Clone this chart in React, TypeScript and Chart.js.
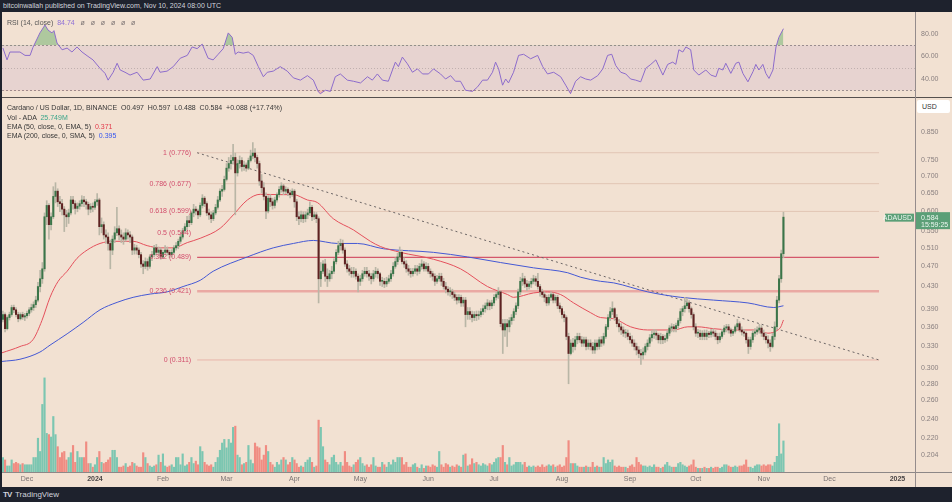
import React, { useEffect, useRef } from "react";
import { Chart, registerables } from "chart.js";

Chart.register(...registerables);

const FONT = "'Liberation Sans', Arial, sans-serif";
const BG = "#f2e1d2";
const DARK = "#1e222d";

// day 0 = Dec 1, 2023 ; first candle = Nov 20, 2023
const START_DAY = -11;
const FIRST_OPEN = 372; // thousandths of USD

const closes = [
  380, 357, 375, 380, 392, 388, 380, 373, 380, 376,
  378, 382, 388, 392, 397, 405, 430, 445, 465, 585,
  615, 565, 585, 640, 655, 625, 620, 605, 590, 585,
  595, 630, 620, 607, 613, 620, 630, 625, 618, 605,
  612, 610, 625, 630, 560, 565, 540, 535, 520, 505,
  530, 545, 555, 540, 535, 530, 545, 540, 535, 505,
  510, 505, 495, 475, 470, 480, 470, 490, 495, 510,
  500, 505, 490, 500, 505, 500, 495, 500, 510, 515,
  525, 535, 550, 560, 575, 570, 595, 605, 600, 590,
  615, 635, 620, 595, 590, 580, 595, 610, 630, 655,
  660, 690, 725, 740, 750, 760, 710, 740, 750, 730,
  735, 725, 750, 765, 775, 760, 740, 685, 665, 640,
  600, 635, 625, 615, 630, 645, 660, 670, 655, 660,
  650, 645, 655, 625, 585, 580, 590, 580, 590, 595,
  610, 585, 590, 580, 445, 460, 475, 450, 445, 455,
  460, 480, 500, 515, 520, 505, 475, 465, 460, 455,
  460, 450, 440, 445, 455, 460, 455, 450, 445, 455,
  460, 455, 440, 440, 435, 440, 445, 455, 470, 480,
  490, 500, 480, 475, 465, 460, 455, 460, 465, 460,
  470, 475, 465, 470, 460, 455, 450, 440, 445, 450,
  440, 430, 425, 420, 420, 415, 410, 405, 410, 400,
  405, 380, 385, 380, 375, 380, 378, 380, 385, 390,
  395, 400, 395, 400, 410, 415, 420, 365, 355, 365,
  360, 370, 375, 385, 395, 420, 440, 445, 435, 430,
  435, 440, 445, 440, 430, 420, 415, 410, 400, 410,
  415, 405, 410, 395, 390, 380, 375, 345, 320, 335,
  330, 340, 345, 340, 335, 340, 330, 335, 330, 325,
  335, 330, 340, 335, 345, 360, 375, 385, 390, 375,
  365, 360, 355, 350, 350, 345, 340, 335, 330, 325,
  320, 318, 322, 330, 335, 343, 348, 350, 347, 340,
  345, 340, 342, 350, 358, 360, 357, 362, 370, 385,
  390, 395, 400, 390, 380, 360, 350, 350, 345, 350,
  345, 350, 348, 352, 350, 345, 340, 345, 352, 358,
  360, 355, 350, 353, 360, 365, 355, 352, 350, 340,
  330, 340, 350, 352, 355, 358, 350, 345, 340, 335,
  330, 345, 360, 405, 445, 497, 584,
];

const highs = [
  386, 383, 378, 384, 396, 396, 392, 384, 383, 384,
  382, 386, 392, 398, 402, 412, 438, 462, 478, 595,
  628, 620, 595, 668, 680, 662, 640, 632, 612, 602,
  605, 640, 640, 628, 622, 628, 642, 640, 632, 624,
  620, 622, 632, 648, 635, 582, 572, 552, 545, 528,
  538, 560, 610, 562, 552, 545, 555, 552, 548, 540,
  518, 516, 510, 500, 482, 488, 486, 495, 502, 516,
  518, 512, 510, 505, 515, 512, 505, 506, 515, 522,
  530, 542, 556, 568, 586, 588, 600, 618, 612, 605,
  622, 645, 640, 625, 605, 598, 602, 618, 640, 662,
  672, 700, 740, 760, 768, 805, 775, 752, 765, 760,
  748, 742, 758, 785, 812, 790, 768, 748, 705, 680,
  650, 642, 645, 635, 638, 650, 668, 680, 675, 668,
  665, 658, 662, 660, 632, 598, 600, 598, 598, 605,
  625, 615, 598, 596, 585, 478, 482, 485, 465, 462,
  470, 486, 506, 525, 530, 528, 510, 482, 472, 468,
  468, 465, 455, 452, 462, 468, 468, 462, 456, 462,
  468, 465, 458, 448, 446, 448, 452, 462, 478, 488,
  498, 512, 505, 488, 482, 472, 466, 466, 472, 472,
  476, 484, 480, 478, 476, 465, 460, 455, 452, 456,
  456, 446, 438, 430, 428, 425, 420, 415, 415, 414,
  410, 410, 392, 392, 386, 385, 386, 386, 390, 396,
  400, 406, 404, 405, 415, 420, 428, 422, 372, 372,
  372, 375, 380, 390, 400, 425, 448, 456, 450, 442,
  440, 446, 452, 450, 456, 434, 425, 420, 414, 415,
  420, 418, 414, 414, 400, 394, 385, 378, 350, 340,
  342, 345, 350, 350, 345, 344, 344, 340, 340, 336,
  340, 340, 344, 345, 350, 364, 380, 392, 402, 392,
  380, 372, 365, 360, 356, 355, 350, 346, 340, 335,
  330, 326, 328, 334, 340, 348, 354, 356, 355, 350,
  350, 348, 347, 354, 362, 365, 364, 366, 374, 390,
  394, 410, 408, 404, 393, 383, 365, 356, 355, 354,
  355, 355, 353, 356, 357, 354, 350, 350, 356, 362,
  364, 364, 358, 356, 363, 372, 368, 360, 356, 352,
  344, 344, 354, 357, 360, 364, 362, 355, 350, 346,
  340, 350, 368, 412, 452, 505, 597,
];

const lows = [
  368, 352, 355, 371, 377, 383, 376, 368, 371, 372,
  370, 374, 378, 384, 387, 392, 402, 420, 436, 460,
  565, 530, 552, 580, 622, 612, 598, 590, 548, 560,
  568, 590, 605, 592, 598, 605, 612, 612, 605, 590,
  596, 598, 604, 615, 540, 545, 530, 520, 505, 465,
  495, 522, 538, 528, 522, 518, 525, 530, 522, 495,
  496, 496, 488, 468, 455, 465, 462, 466, 482, 490,
  494, 494, 485, 486, 495, 494, 488, 490, 496, 505,
  508, 520, 530, 545, 552, 560, 565, 585, 590, 580,
  585, 608, 612, 588, 578, 570, 575, 590, 605, 625,
  640, 655, 685, 715, 722, 738, 590, 700, 725, 715,
  718, 715, 720, 745, 755, 745, 725, 672, 650, 630,
  580, 595, 612, 605, 608, 624, 638, 652, 645, 648,
  642, 636, 640, 610, 575, 565, 572, 570, 572, 580,
  588, 575, 578, 570, 400, 430, 455, 440, 430, 440,
  445, 455, 475, 495, 505, 498, 470, 458, 452, 448,
  448, 444, 420, 432, 440, 450, 448, 442, 435, 440,
  448, 446, 432, 430, 428, 430, 436, 440, 450, 466,
  474, 484, 475, 468, 458, 452, 448, 450, 455, 452,
  455, 464, 460, 460, 455, 448, 442, 432, 436, 440,
  432, 425, 418, 414, 412, 408, 404, 398, 400, 394,
  394, 360, 372, 372, 368, 370, 370, 372, 376, 380,
  384, 388, 388, 390, 395, 405, 408, 360, 320, 345,
  330, 352, 364, 370, 380, 390, 415, 432, 428, 422,
  425, 428, 435, 432, 425, 412, 410, 402, 395, 396,
  404, 400, 400, 390, 384, 374, 368, 340, 280, 318,
  322, 325, 334, 336, 330, 330, 325, 326, 325, 320,
  320, 325, 326, 330, 332, 342, 356, 370, 380, 370,
  360, 352, 348, 345, 343, 340, 335, 330, 325, 318,
  314, 305, 312, 318, 325, 330, 338, 342, 340, 335,
  334, 334, 336, 338, 346, 352, 352, 352, 358, 366,
  378, 384, 390, 384, 374, 355, 345, 343, 340, 340,
  340, 340, 343, 344, 345, 340, 334, 336, 342, 348,
  352, 350, 345, 346, 350, 356, 352, 347, 345, 335,
  320, 326, 336, 345, 348, 350, 345, 340, 335, 328,
  323, 328, 340, 356, 400, 438, 488,
];

// volume, millions of ADA
const volumes = [
  12, 10, 5, 5, 10, 7, 8, 7, 6, 7,
  6, 6, 6, 6, 12, 12, 28, 17, 56, 78,
  32, 31, 29, 46, 31, 21, 12, 16, 17, 10,
  12, 16, 22, 8, 17, 12, 12, 12, 25, 7,
  7, 4, 6, 12, 17, 8, 7, 8, 10, 12,
  18, 18, 12, 4, 4, 5, 7, 4, 5, 8,
  7, 5, 4, 4, 16, 12, 7, 5, 4, 5,
  6, 14, 8, 15, 5, 4, 5, 6, 4, 12,
  12, 6, 15, 5, 6, 8, 12, 7, 9, 6,
  21, 17, 8, 6, 5, 6, 4, 8, 12, 18,
  24, 27, 20, 27, 24, 37, 38, 14, 12, 6,
  7, 8, 22, 10, 7, 24, 21, 20, 10, 14,
  22, 17, 8, 6, 4, 8, 6, 10, 12, 10,
  6, 8, 12, 10, 7, 4, 5, 4, 8, 10,
  12, 8, 4, 5, 43, 37, 21, 10, 8, 6,
  12, 14, 8, 6, 8, 5, 17, 8, 5, 4,
  6, 8, 10, 12, 7, 5, 6, 4, 6, 12,
  5, 4, 4, 8, 6, 4, 8, 6, 10, 8,
  12, 12, 12, 6, 8, 4, 4, 6, 7, 4,
  3, 6, 3, 5, 5, 4, 6, 5, 4, 17,
  6, 4, 7, 6, 4, 5, 4, 6, 5, 4,
  14, 15, 5, 6, 11, 7, 8, 6, 5, 7,
  6, 5, 7, 6, 8, 11, 12, 12, 22, 8,
  6, 12, 5, 6, 8, 8, 8, 6, 8, 4,
  5, 4, 5, 4, 5, 4, 6, 4, 5, 6,
  5, 6, 4, 5, 6, 4, 5, 12, 26, 7,
  7, 7, 5, 4, 4, 4, 5, 4, 4, 8,
  4, 5, 4, 4, 12, 7, 10, 8, 10, 5,
  4, 5, 4, 4, 4, 3, 5, 6, 4, 12,
  8, 6, 5, 5, 4, 5, 4, 6, 4, 4,
  3, 4, 6, 8, 5, 4, 4, 4, 7, 8,
  6, 5, 4, 5, 6, 10, 4, 3, 3, 3,
  4, 3, 3, 4, 3, 4, 4, 3, 4, 6,
  6, 5, 4, 4, 5, 4, 5, 5, 6, 10,
  4, 4, 3, 5, 6, 6, 5, 6, 5, 6,
  6, 5, 8, 13, 40, 15, 25.749,
];

const rsiDays = [
  -11, -9.1, -7.8, -3.2, -0.9, 1.4, 2.7, 5.9, 8.2, 9.6,
  11.4, 12.3, 13.7, 16, 18.3, 20.5, 22.8, 25.1, 27.4, 30.1,
  33.3, 35.6, 37, 39.3, 41.1, 42.5, 44.7, 47, 50.2, 53,
  56.2, 59.4, 60.7, 63.9, 66.7, 69.9, 73.1, 75.3, 77.6, 79.9,
  82.6, 84.9, 87.2, 89.5, 91.8, 93.6, 95, 96.3, 98.6, 100.9,
  103.2, 105.5, 107.8, 109.6, 112.3, 115.5, 118.7, 121.5, 124.7, 127.9,
  130.6, 132.9, 133.8, 136.1, 138.4, 140.6, 142.9, 146.1, 148.9, 152.1,
  155.3, 157.5, 159.8, 162.1, 164.8, 168, 169.4, 171.2, 173.5, 175.8,
  178.1, 180.4, 183.1, 185.4, 188.6, 190.9, 193.2, 195.4, 197.7, 200,
  203.2, 205.5, 207.8, 210, 212.3, 213.7, 215.1, 216.9, 218.3, 219.6,
  221.9, 224.2, 226.5, 229.7, 232.9, 235.2, 237.4, 240.2, 243.4, 245.7,
  247.9, 250.2, 252.5, 254.8, 257.1, 260.3, 262.6, 264.8, 266.7, 268.5,
  270.8, 273.1, 275.3, 277.6, 279.9, 282.2, 284.5, 286.8, 290, 292.2,
  294.5, 295.9, 297.3, 299.1, 300.5, 302.7, 304.1, 306.4, 309.6, 311.9,
  314.2, 315.5, 317.4, 318.7, 321, 323.3, 324.7, 326.5, 328.8, 331.1,
  332.4, 333.8, 335.6, 337, 338.4, 340.2, 341.6, 342.9, 345,
];
const rsiValues = [
  67.6, 57, 64, 64, 61, 61, 68, 81, 88, 83.5,
  81, 83, 72, 66, 67.5, 64, 68.5, 64, 60.7, 57,
  49.5, 45, 39, 46, 54, 48, 46, 43.5, 46, 39,
  40, 51, 46, 47, 51, 58.5, 61, 68.5, 67, 71,
  58.5, 57, 62, 67, 81, 77, 62, 64, 63, 64,
  61, 51, 42, 46, 47, 51, 47, 41, 39, 43,
  39, 28.5, 27, 30, 29, 42, 44.5, 39, 38, 36.5,
  42, 39, 44.5, 39, 38, 55, 51, 59.5, 53.5, 46,
  49, 44.5, 44.5, 49, 44.5, 40, 43, 38, 38, 30,
  29, 33, 39, 39, 46, 55, 49, 34.5, 40, 36.5,
  46, 61, 62, 58, 61, 51, 44.5, 46, 42, 34.5,
  27, 38, 42, 40, 39, 43, 49, 61, 62, 52,
  46, 44.5, 40, 39, 37.5, 49.5, 53, 57, 43.5, 53,
  55, 53, 66, 64, 68.5, 66, 48, 43.5, 48, 43.5,
  42, 49.5, 48, 54, 45, 54, 55, 45, 37.5, 46.5,
  53, 48, 53, 45, 40.5, 48, 68.5, 77, 84.74,
];

const ema50Days = [
  -11.4, -3.2, 2.7, 6.8, 10.5, 14.2, 18.3, 22.8, 27.4, 33.3,
  39.3, 48.4, 54.8, 60.7, 66.7, 73.1, 79, 88.1, 94.1, 100.5,
  106.4, 115.5, 121.5, 127.9, 132.4, 139.7, 148.9, 156.6, 161.2, 170.3,
  185.4, 197.7, 210, 219.2, 221.9, 231, 237.4, 243.4, 249.3, 257.1,
  261.6, 267.6, 275.3, 283.1, 295, 301.4, 305.9, 313.2, 322.4, 331.5,
  337.9, 342.5, 343.8, 345,
];
const ema50Values = [
  0.321, 0.33, 0.34, 0.37, 0.41, 0.44, 0.46, 0.487, 0.505, 0.52,
  0.525, 0.525, 0.515, 0.51, 0.51, 0.522, 0.532, 0.556, 0.59, 0.63,
  0.646, 0.645, 0.645, 0.63, 0.623, 0.58, 0.552, 0.525, 0.513, 0.5,
  0.485, 0.465, 0.43, 0.415, 0.41, 0.418, 0.42, 0.415, 0.4, 0.383,
  0.375, 0.373, 0.36, 0.355, 0.355, 0.36, 0.36, 0.357, 0.355, 0.355,
  0.35, 0.355, 0.36, 0.371,
];

const ema200Days = [
  -11.4, -3.2, 5.9, 10.5, 18.3, 25.6, 33.3, 41.1, 48.4, 56.2,
  63.9, 71.2, 79, 84.9, 100.5, 112.3, 121.5, 130.6, 141.6, 150.7,
  162.6, 185.4, 200.9, 216, 231, 246.6, 252.5, 261.6, 267.6, 283.1,
  298.2, 313.2, 328.8, 340.6, 345,
];
const ema200Values = [
  0.309, 0.312, 0.322, 0.332, 0.349, 0.367, 0.388, 0.401, 0.41, 0.416,
  0.42, 0.43, 0.442, 0.46, 0.49, 0.51, 0.52, 0.527, 0.52, 0.52,
  0.508, 0.5, 0.49, 0.478, 0.467, 0.457, 0.448, 0.44, 0.437, 0.42,
  0.41, 0.405, 0.4, 0.392, 0.395,
];

const fibRatios = ["1", "0.786", "0.618", "0.5", "0.382", "0.236", "0"];
const fibPrices = [0.776, 0.677, 0.599, 0.544, 0.489, 0.421, 0.311];
const fibColors = ["#e2c5b5", "#e2c5b5", "#e2c5b5", "rgba(0,0,0,0)", "#d4576b", "#eaa9a3", "#e8b6aa"];
const fibWidths = [1, 1, 1, 0, 1.2, 2.5, 1];
const FIB_START_DAY = 77.6;
const FIB_END_DAY = 388.6;

const trendDays = [77.6, 388.6];
const trendPrices = [0.776, 0.311];

const monthTickDays = [0, 31, 62, 91, 122, 152, 183, 213, 244, 275, 305, 336, 366, 397];
const monthTickLabels = ["Dec", "2024", "Feb", "Mar", "Apr", "May", "Jun", "Jul", "Aug", "Sep", "Oct", "Nov", "Dec", "2025"];
const priceTicks = [0.85, 0.75, 0.7, 0.65, 0.6, 0.55, 0.51, 0.47, 0.43, 0.39, 0.36, 0.33, 0.3, 0.28, 0.26, 0.24, 0.22, 0.204];
const rsiTicks = [40, 60, 80];

const X_MIN = -11.4;
const X_MAX = 405;
const PRICE_MIN = 0.1897;
const PRICE_MAX = 0.988;
const VOL_MAX = 310;
const RSI_MIN = 24;
const RSI_MAX = 98.7;
const COUNTDOWN = "15:59:25";

const UP_BODY = "#3b7549";
const DOWN_BODY = "#5e2121";
const WICK = "#b9b6a6";
const VOL_UP = "#7cc6b1";
const VOL_DOWN = "#f08c82";
const EMA50_COLOR = "#e4505c";
const EMA200_COLOR = "#4458d4";
const RSI_COLOR = "#8c6bcb";
const FIB_LABEL = "#d24e6c";
const TAG_GREEN = "#5b9f77";
const AXIS_TEXT = "#8a8080";

Chart.defaults.font.family = FONT;
Chart.defaults.font.size = 7;

const fitRightAxis = (axis: any) => {
  axis.width = 37;
  axis.paddingTop = 0;
  axis.paddingBottom = 0;
};
const fitBottomAxis = (axis: any) => {
  axis.height = 15;
  axis.paddingLeft = 0;
  axis.paddingRight = 0;
};

function buildMain(canvas: HTMLCanvasElement) {
  const days = closes.map((_, i) => START_DAY + i);
  const opens = closes.map((_, i) => (i === 0 ? FIRST_OPEN : closes[i - 1]));
  const up = closes.map((c, i) => c >= opens[i]);

  const fibSets = fibPrices.map((p, i) => ({
    type: "line" as const,
    data: [{ x: FIB_START_DAY, y: p }, { x: FIB_END_DAY, y: p }],
    borderColor: fibColors[i],
    borderWidth: fibWidths[i],
    pointRadius: 0,
    yAxisID: "y",
    order: 8,
  }));

  const overlay = {
    id: "overlay",
    afterDatasetsDraw(chart: any) {
      const { ctx, scales } = chart;
      const x = scales.x;
      const y = scales.y;
      ctx.save();
      ctx.font = `7px ${FONT}`;
      ctx.fillStyle = FIB_LABEL;
      ctx.textAlign = "right";
      ctx.textBaseline = "middle";
      fibRatios.forEach((r, i) => {
        ctx.fillText(`${r} (${fibPrices[i].toFixed(3)})`, x.getPixelForValue(FIB_START_DAY) - 6, y.getPixelForValue(fibPrices[i]));
      });
      ctx.restore();
    },
    afterDraw(chart: any) {
      const { ctx, scales, chartArea } = chart;
      const y = scales.y;
      const last = closes[closes.length - 1] / 1000;
      const yp = y.getPixelForValue(last);
      const right = chartArea.right;
      ctx.save();
      ctx.fillStyle = TAG_GREEN;
      ctx.fillRect(right + 1, yp - 5, 34, 17);
      ctx.fillRect(right - 30, yp - 3.5, 29, 8);
      ctx.fillStyle = "#eef7f0";
      ctx.font = `7px ${FONT}`;
      ctx.textBaseline = "middle";
      ctx.textAlign = "left";
      ctx.fillText(last.toFixed(3), right + 6, yp + 0.5);
      ctx.fillText(COUNTDOWN, right + 6, yp + 8);
      ctx.textAlign = "right";
      ctx.fillText("ADAUSD", right - 3, yp + 0.5);
      ctx.restore();
    },
  };

  return new Chart(canvas, {
    type: "bar",
    data: {
      datasets: [
        {
          type: "bar",
          data: days.map((d, i) => ({ x: d, y: volumes[i] })),
          backgroundColor: up.map((u) => (u ? VOL_UP : VOL_DOWN)),
          barThickness: 1.5,
          grouped: false,
          yAxisID: "yVol",
          order: 10,
        },
        ...fibSets,
        {
          type: "line",
          data: trendDays.map((d, i) => ({ x: d, y: trendPrices[i] })),
          borderColor: "#6a6464",
          borderWidth: 1,
          borderDash: [2, 3],
          pointRadius: 0,
          yAxisID: "y",
          order: 7,
        },
        {
          type: "line",
          data: ema200Days.map((d, i) => ({ x: d, y: ema200Values[i] })),
          borderColor: EMA200_COLOR,
          borderWidth: 1,
          pointRadius: 0,
          cubicInterpolationMode: "monotone",
          yAxisID: "y",
          order: 5,
        },
        {
          type: "line",
          data: ema50Days.map((d, i) => ({ x: d, y: ema50Values[i] })),
          borderColor: EMA50_COLOR,
          borderWidth: 1,
          pointRadius: 0,
          cubicInterpolationMode: "monotone",
          yAxisID: "y",
          order: 4,
        },
        {
          type: "bar",
          data: days.map((d, i) => ({ x: d, y: [Math.min(lows[i], opens[i], closes[i]) / 1000, Math.max(highs[i], opens[i], closes[i]) / 1000] })),
          backgroundColor: WICK,
          barThickness: 1,
          grouped: false,
          yAxisID: "y",
          order: 2,
        },
        {
          type: "bar",
          data: days.map((d, i) => ({ x: d, y: [opens[i] / 1000, closes[i] / 1000] })),
          backgroundColor: up.map((u) => (u ? UP_BODY : DOWN_BODY)),
          barThickness: 1.4,
          minBarLength: 1,
          grouped: false,
          yAxisID: "y",
          order: 1,
        },
      ] as any,
    },
    options: {
      animation: false,
      responsive: false,
      maintainAspectRatio: false,
      events: [],
      layout: { padding: { left: 2, right: 0, top: 0, bottom: 0 } },
      plugins: { legend: { display: false }, tooltip: { enabled: false } },
      scales: {
        x: {
          type: "linear",
          min: X_MIN,
          max: X_MAX,
          offset: false,
          grid: { display: false, drawTicks: false },
          border: { display: false },
          afterBuildTicks: (axis: any) => {
            axis.ticks = monthTickDays.map((v) => ({ value: v }));
          },
          afterFit: fitBottomAxis,
          ticks: {
            autoSkip: false,
            maxRotation: 0,
            padding: 3,
            color: (c: any) => (monthTickLabels[c.index] && monthTickLabels[c.index].length === 4 ? "#4a4545" : "#7a7272"),
            font: (c: any) => ({ size: 7, family: FONT, weight: monthTickLabels[c.index] && monthTickLabels[c.index].length === 4 ? "bold" : "normal" }),
            callback: (_v: any, i: number) => monthTickLabels[i],
          },
        },
        y: {
          type: "logarithmic",
          position: "right",
          min: PRICE_MIN,
          max: PRICE_MAX,
          beginAtZero: false,
          grid: { display: false, drawTicks: false },
          border: { display: false },
          afterBuildTicks: (axis: any) => {
            axis.ticks = priceTicks.map((v) => ({ value: v }));
          },
          afterFit: fitRightAxis,
          ticks: {
            autoSkip: false,
            padding: 6,
            color: AXIS_TEXT,
            font: { size: 7, family: FONT },
            callback: (v: any) => Number(v).toFixed(3),
          },
        },
        yVol: {
          type: "linear",
          display: false,
          min: 0,
          max: VOL_MAX,
        },
      },
    } as any,
    plugins: [overlay],
  });
}

function buildRsi(canvas: HTMLCanvasElement) {
  const pts = rsiDays.map((d, i) => ({ x: d, y: rsiValues[i] }));
  const band = {
    id: "rsiBand",
    beforeDatasetsDraw(chart: any) {
      const { ctx, chartArea, scales } = chart;
      const y = scales.y;
      const y70 = y.getPixelForValue(70);
      const y30 = y.getPixelForValue(30);
      const y50 = y.getPixelForValue(50);
      ctx.save();
      ctx.fillStyle = "rgba(126,87,194,0.095)";
      ctx.fillRect(chartArea.left, y70, chartArea.right - chartArea.left, y30 - y70);
      ctx.strokeStyle = "rgba(120,110,115,0.7)";
      ctx.lineWidth = 1;
      ctx.setLineDash([2, 2]);
      [y70, y30].forEach((yy) => {
        ctx.beginPath();
        ctx.moveTo(chartArea.left, Math.round(yy) + 0.5);
        ctx.lineTo(chartArea.right, Math.round(yy) + 0.5);
        ctx.stroke();
      });
      ctx.strokeStyle = "rgba(120,110,115,0.35)";
      ctx.setLineDash([1, 2]);
      ctx.beginPath();
      ctx.moveTo(chartArea.left, Math.round(y50) + 0.5);
      ctx.lineTo(chartArea.right, Math.round(y50) + 0.5);
      ctx.stroke();
      ctx.restore();
    },
  };
  return new Chart(canvas, {
    type: "line",
    data: {
      datasets: [
        {
          data: pts,
          borderColor: RSI_COLOR,
          borderWidth: 1,
          pointRadius: 0,
          tension: 0,
          fill: { target: { value: 70 }, above: "rgba(90,170,95,0.45)", below: "rgba(0,0,0,0)" },
        },
        {
          data: pts,
          borderColor: "rgba(0,0,0,0)",
          borderWidth: 0,
          pointRadius: 0,
          tension: 0,
          fill: { target: { value: 30 }, above: "rgba(0,0,0,0)", below: "rgba(235,80,90,0.3)" },
        },
      ],
    },
    options: {
      animation: false,
      responsive: false,
      maintainAspectRatio: false,
      events: [],
      layout: { padding: { left: 2, right: 0, top: 1, bottom: 1 } },
      plugins: { legend: { display: false }, tooltip: { enabled: false } },
      scales: {
        x: { type: "linear", min: X_MIN, max: X_MAX, display: false },
        y: {
          position: "right",
          min: RSI_MIN,
          max: RSI_MAX,
          grid: { display: false, drawTicks: false },
          border: { display: false },
          afterBuildTicks: (axis: any) => {
            axis.ticks = rsiTicks.map((v) => ({ value: v }));
          },
          afterFit: fitRightAxis,
          ticks: {
            autoSkip: false,
            padding: 6,
            color: AXIS_TEXT,
            font: { size: 7, family: FONT },
            callback: (v: any) => Number(v).toFixed(2),
          },
        },
      },
    } as any,
    plugins: [band],
  });
}

const abs = (s: any): any => ({ position: "absolute", ...s });
const txt = (top: number, left: number, extra: any = {}): any =>
  abs({ top, left, fontSize: 7, lineHeight: "9px", whiteSpace: "pre", color: "#363636", ...extra });

export default function App() {
  const rsiRef = useRef<HTMLCanvasElement>(null);
  const mainRef = useRef<HTMLCanvasElement>(null);

  useEffect(() => {
    const r = buildRsi(rsiRef.current as HTMLCanvasElement);
    const m = buildMain(mainRef.current as HTMLCanvasElement);
    return () => {
      r.destroy();
      m.destroy();
    };
  }, []);

  return (
    <div style={abs({ left: 0, top: 0, width: 952, height: 502, background: BG, overflow: "hidden", fontFamily: FONT })}>
      <div style={abs({ left: 0, top: 0, width: 952, height: 12, background: DARK })} />
      <div style={txt(2, 3, { color: "#d1d4dc", lineHeight: "8px" })}>bitcoinwallah published on TradingView.com, Nov 10, 2024 08:00 UTC</div>

      <canvas ref={rsiRef} width={952} height={86} style={abs({ left: 0, top: 12, width: 952, height: 86 })} />
      <canvas ref={mainRef} width={952} height={389} style={abs({ left: 0, top: 98, width: 952, height: 389 })} />

      <div style={abs({ left: 0, top: 97, width: 952, height: 1, background: "#55504e" })} />
      <div style={abs({ left: 0, top: 472, width: 952, height: 1, background: "#8d8787" })} />
      <div style={abs({ left: 915, top: 12, width: 1, height: 475, background: "#958c8c" })} />
      <div style={abs({ left: 0, top: 0, width: 2, height: 502, background: DARK })} />

      <div style={txt(18, 7, { color: "#555" })}>
        RSI (14, close)  <span style={{ color: "#8e6fd6" }}>84.74</span>
        <span style={{ color: "#7a7272" }}>{"   ø   ø   ø   ø   ø   ø"}</span>
      </div>

      <div style={txt(103, 7)}>
        {"Cardano / US Dollar, 1D, BINANCE  "}
        {"O0.497  H0.597  L0.488  C0.584  +0.088 (+17.74%)"}
      </div>
      <div style={txt(112.5, 7)}>
        {"Vol - ADA  "}
        <span style={{ color: "#3aa58a" }}>25.749M</span>
      </div>
      <div style={txt(121.5, 7)}>
        {"EMA (50, close, 0, EMA, 5)  "}
        <span style={{ color: "#e3394a" }}>0.371</span>
      </div>
      <div style={txt(130.5, 7)}>
        {"EMA (200, close, 0, SMA, 5)  "}
        <span style={{ color: "#3656ee" }}>0.395</span>
      </div>

      <div style={abs({ left: 917, top: 100, width: 33, height: 13, background: "#ffffff", borderRadius: 2, fontSize: 7, lineHeight: "13px", color: "#333", paddingLeft: 5, boxSizing: "border-box" })}>USD</div>

      <div style={abs({ left: 0, top: 487, width: 952, height: 15, background: DARK })} />
      <div style={txt(488.5, 3, { color: "#d1d4dc", fontSize: 8, lineHeight: "12px", fontWeight: "bold", letterSpacing: -1 })}>TV</div>
      <div style={txt(488.5, 15, { color: "#d1d4dc", fontSize: 8, lineHeight: "12px" })}>TradingView</div>
    </div>
  );
}
